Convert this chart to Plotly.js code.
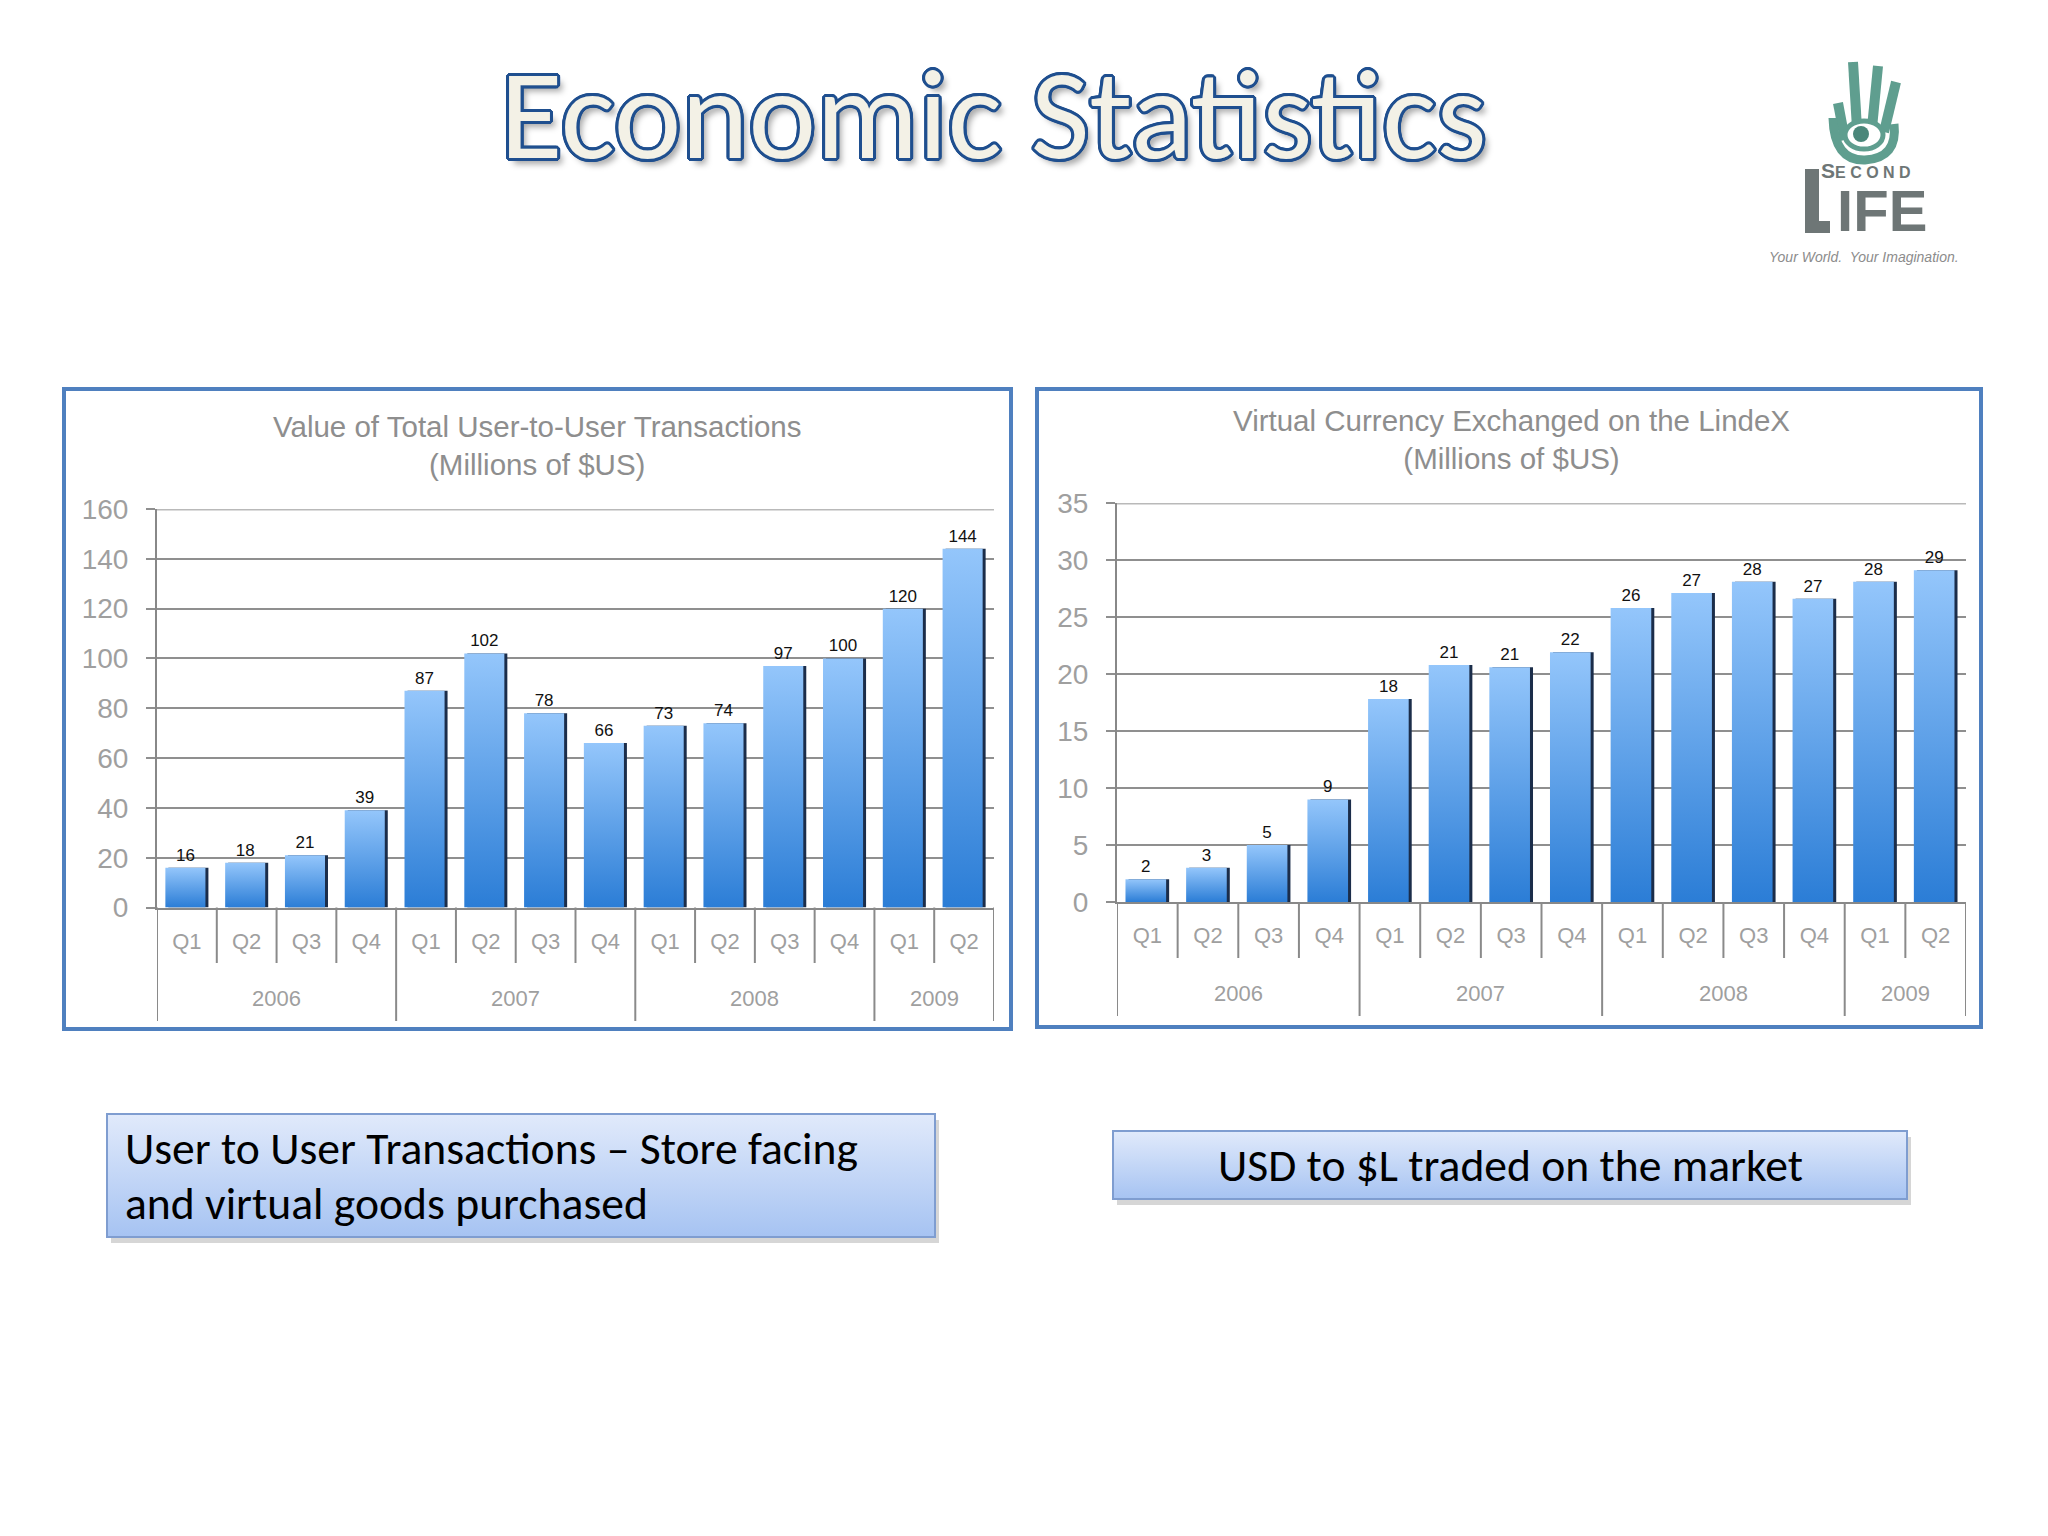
<!DOCTYPE html>
<html>
<head>
<meta charset="utf-8">
<script src="https://cdn.plot.ly/plotly-3.0.1.min.js"></script>
<style>html,body{margin:0;padding:0;background:#ffffff;}</style>
</head>
<body>
<div id="chart" style="width:2048px;height:1536px;"></div>
<script>
// ---------------- data ----------------
const quarters = ['Q1','Q2','Q3','Q4','Q1','Q2','Q3','Q4','Q1','Q2','Q3','Q4','Q1','Q2'];
const years    = ['2006','2006','2006','2006','2007','2007','2007','2007','2008','2008','2008','2008','2009','2009'];
const yearGroups = ['2006','2007','2008','2009'];
const userToUser = [16, 18, 21, 39, 87, 102, 78, 66, 73, 74, 97, 100, 120, 144];
const lindex     = [2, 3, 5, 9, 17.8, 20.8, 20.6, 21.9, 25.8, 27.1, 28.1, 26.6, 28.1, 29.1];
const leftTitle  = 'Value of Total User-to-User Transactions<br>(Millions of $US)';
const rightTitle = 'Virtual Currency Exchanged on the LindeX<br>(Millions of $US)';
const pageTitle  = 'Economic Statistics';
const leftNote   = ['User to User Transactions \u2013 Store facing', 'and virtual goods purchased'];
const rightNote  = 'USD to $L traded on the market';

// ---------------- helpers ----------------
const W = 2048, H = 1536;
const PX = x => x / W;
const PY = y => 1 - y / H;
const cats = years.map((y, i) => y + ' ' + quarters[i]);

const BAR_COLOR = '#5c9ee8';
const BOX_COLOR = '#c8d8f5';
const GRID = '#8f8f8f';
const LABEL = '#9f9f9f';
const AXFONT = 'Liberation Sans, Arial, sans-serif';
const CAL = 'Carlito, Calibri, Lato, sans-serif';

const data = [];
const shapes = [];
const annotations = [];
const layout = {
  width: W, height: H,
  margin: {l: 0, r: 0, t: 0, b: 0},
  paper_bgcolor: '#ffffff',
  plot_bgcolor: 'rgba(0,0,0,0)',
  showlegend: false,
  barmode: 'overlay',
  shapes: shapes,
  annotations: annotations
};

function note(x, y, text, font, xanchor) {
  annotations.push({xref: 'paper', yref: 'paper', x: PX(x), y: PY(y), text: text,
    xanchor: xanchor || 'center', yanchor: 'middle', showarrow: false, font: font});
}

function chart(n, values, cfg) {
  const xs = n === 1 ? '' : String(n);
  const xa = 'x' + xs, ya = 'y' + xs;
  // dark right-edge shadow bars
  data.push({
    type: 'bar', x: cats, y: values, xaxis: xa, yaxis: ya,
    width: 0.67, offset: -0.31,
    marker: {color: '#1b2d4a', line: {width: 0}},
    hoverinfo: 'skip'
  });
  // main bars
  data.push({
    type: 'bar', x: cats, y: values, xaxis: xa, yaxis: ya,
    width: 0.67, offset: -0.36,
    marker: {color: BAR_COLOR, line: {width: 0}},
    texttemplate: '%{y:.0f}', textposition: 'outside', cliponaxis: false,
    constraintext: 'none',
    textfont: {family: 'Liberation Sans Narrow, Arial Narrow, sans-serif', size: 17, color: '#111111'}
  });
  const y0 = PY(cfg.zeroPx), y1 = PY(cfg.topPx);
  layout['xaxis' + xs] = {
    domain: [PX(cfg.left), PX(cfg.right)], anchor: ya,
    type: 'category', categoryorder: 'array', categoryarray: cats,
    tickmode: 'array', tickvals: cats, ticktext: quarters,
    range: [-0.5, cats.length - 0.5],
    ticks: '', showgrid: false, zeroline: false,
    showline: true, linecolor: '#888888', linewidth: 2,
    tickfont: {family: AXFONT, size: 22, color: LABEL},
    ticklabelstandoff: cfg.qStandoff,
    fixedrange: true
  };
  layout['yaxis' + xs] = {
    domain: [y0, y1], anchor: xa,
    range: [0, cfg.max], tick0: 0, dtick: cfg.dtick,
    ticks: 'outside', ticklen: 9, tickwidth: 2, tickcolor: GRID,
    showgrid: true, gridcolor: GRID, gridwidth: 2,
    showline: true, linecolor: '#888888', linewidth: 2,
    zeroline: false,
    tickfont: {family: AXFONT, size: 28, color: LABEL},
    ticklabelstandoff: 12,
    fixedrange: true
  };
  // lighter top gridline
  shapes.push({type: 'line', xref: xa + ' domain', yref: ya, x0: 0, x1: 1, y0: cfg.max, y1: cfg.max,
    line: {color: '#b9b9b9', width: 3}, layer: 'above'});
  // quarter & year dividers
  for (let i = 0; i <= cats.length; i++) {
    const isYear = i === 0 || i === cats.length || years[i] !== years[i - 1];
    shapes.push({type: 'line', xref: xa, yref: 'paper', x0: i - 0.5, x1: i - 0.5,
      y0: y0, y1: PY(isYear ? cfg.yearLinePx : cfg.qLinePx),
      line: {color: '#8a8a8a', width: 2}});
  }
  // year labels
  yearGroups.forEach(g => {
    const idx = years.map((y, i) => y === g ? i : -1).filter(i => i >= 0);
    const c = idx.reduce((a, b) => a + b, 0) / idx.length;
    annotations.push({xref: xa, yref: 'paper', x: c, y: PY(cfg.yearLabelPx), text: g,
      xanchor: 'center', yanchor: 'middle',
      showarrow: false, font: {family: AXFONT, size: 22, color: LABEL}});
  });
  // chart title
  note(cfg.titleX, cfg.titleY, cfg.title, {family: AXFONT, size: 29.5, color: '#8e8e8e'});
  // frame
  shapes.push({type: 'rect', xref: 'paper', yref: 'paper',
    x0: PX(cfg.frame[0]), x1: PX(cfg.frame[2]), y0: PY(cfg.frame[1]), y1: PY(cfg.frame[3]),
    line: {color: '#4f80bf', width: 4}, layer: 'below'});
}

chart(1, userToUser, {left: 157, right: 994, zeroPx: 907.5, topPx: 509, max: 160, dtick: 20,
  qLinePx: 963, yearLinePx: 1021, yearLabelPx: 998, qStandoff: 13,
  titleX: 537, titleY: 445.5, title: leftTitle, frame: [64, 389, 1011, 1029]});
chart(2, lindex, {left: 1117, right: 1966, zeroPx: 902, topPx: 503, max: 35, dtick: 5,
  qLinePx: 958, yearLinePx: 1016, yearLabelPx: 993, qStandoff: 13,
  titleX: 1511, titleY: 439.5, title: rightTitle, frame: [1037, 389, 1981, 1027]});

// ---------------- page title ----------------
const outline = '#1f4f8f';
const sh = [];
[[3,0],[-3,0],[0,3],[0,-3],[2,2],[-2,-2],[2,-2],[-2,2],[3,1],[-3,1],[3,-1],[-3,-1],[1,3],[1,-3],[-1,3],[-1,-3]]
  .forEach(([a, b]) => sh.push(a + 'px ' + b + 'px 0 ' + outline));
sh.push('5px 6px 6px rgba(0,0,0,0.35)');
note(993, 114, pageTitle, {family: CAL, size: 128, color: '#f3f1e6', shadow: sh.join(', ')});

// ---------------- note boxes ----------------
function box(x0, y0, x1, y1) {
  shapes.push({type: 'rect', xref: 'paper', yref: 'paper', x0: PX(x0 + 4), x1: PX(x1 + 4), y0: PY(y0 + 6), y1: PY(y1 + 6),
    fillcolor: 'rgba(0,0,0,0.16)', line: {width: 0}, layer: 'above'});
  shapes.push({type: 'rect', xref: 'paper', yref: 'paper', x0: PX(x0), x1: PX(x1), y0: PY(y0), y1: PY(y1),
    fillcolor: BOX_COLOR, line: {color: '#7f9dd0', width: 2}, layer: 'above'});
}
box(107, 1114, 935, 1237);
box(1113, 1131, 1907, 1199);
const NOTEFONT = {family: CAL, size: 45.6, color: '#000000'};
note(123, 1148, leftNote[0], NOTEFONT, 'left');
note(123, 1203, leftNote[1], NOTEFONT, 'left');
note(1510, 1165, rightNote, NOTEFONT);

// ---------------- logo ----------------
const TEAL = '#5f9e8f';
const P = (x, y) => PX(x) + ',' + PY(y);
[[1838,103,1845,140],[1853,62,1857,128],[1878,66,1872,128],[1896,82,1884,132]].forEach(f => {
  shapes.push({type: 'line', xref: 'paper', yref: 'paper', x0: PX(f[0]), y0: PY(f[1]), x1: PX(f[2]), y1: PY(f[3]),
    line: {color: TEAL, width: 10}, layer: 'above'});
});
shapes.push({type: 'path', xref: 'paper', yref: 'paper', layer: 'above',
  path: 'M' + P(1833,118) + ' Q' + P(1834,161) + ' ' + P(1865,160) + ' Q' + P(1898,158) + ' ' + P(1894,124),
  line: {color: TEAL, width: 9}});
shapes.push({type: 'circle', xref: 'paper', yref: 'paper', x0: PX(1845), x1: PX(1883), y0: PY(121), y1: PY(149),
  fillcolor: '#ffffff', line: {color: TEAL, width: 5}, layer: 'above'});
shapes.push({type: 'circle', xref: 'paper', yref: 'paper', x0: PX(1853), x1: PX(1869), y0: PY(126), y1: PY(142),
  fillcolor: '#4a877a', line: {width: 0}, layer: 'above'});
// L of LIFE
const GRAYL = '#6e7676';
shapes.push({type: 'path', xref: 'paper', yref: 'paper', layer: 'above', fillcolor: GRAYL, line: {width: 0},
  path: 'M' + P(1805,169) + ' L' + P(1819,169) + ' L' + P(1819,221) + ' L' + P(1830,221) + ' L' + P(1830,233) + ' L' + P(1805,233) + ' Z'});
annotations.push({xref: 'paper', yref: 'paper', x: PX(1819), y: PY(245), xanchor: 'left', yanchor: 'bottom',
  align: 'left', showarrow: false,
  text: "<span style='font-size:21px'>S</span><span style='font-size:16px'>E C O N D</span><br>" +
        "<span style='font-size:58px'>\u00a0IFE</span>",
  font: {family: 'Liberation Sans, Arial, sans-serif', size: 41, weight: 700, color: GRAYL}});
note(1427 * 1.306, 257, 'Your World.  Your Imagination.',
  {family: 'Liberation Sans Narrow, Liberation Sans, Arial, sans-serif', size: 14, style: 'italic', color: '#8c8c8c'});

// ---------------- draw ----------------
const gd = document.getElementById('chart');
Plotly.newPlot(gd, data, layout, {staticPlot: true, displayModeBar: false}).then(() => {
  const NS = 'http://www.w3.org/2000/svg';
  const svg = gd.querySelector('svg.main-svg');
  let defs = svg.querySelector('defs');
  if (!defs) { defs = document.createElementNS(NS, 'defs'); svg.insertBefore(defs, svg.firstChild); }
  function addGrad(id, stops) {
    const g = document.createElementNS(NS, 'linearGradient');
    g.setAttribute('id', id);
    g.setAttribute('x1', '0'); g.setAttribute('y1', '0'); g.setAttribute('x2', '0'); g.setAttribute('y2', '1');
    stops.forEach(([o, c]) => {
      const s = document.createElementNS(NS, 'stop');
      s.setAttribute('offset', o); s.setAttribute('stop-color', c);
      g.appendChild(s);
    });
    defs.appendChild(g);
  }
  addGrad('barGrad', [[0, '#94c6fb'], [1, '#2b7dd6']]);
  addGrad('boxGrad', [[0, '#e1eafb'], [1, '#a6c3f2']]);
  gd.querySelectorAll('path').forEach(p => {
    const f = p.style.fill;
    if (f === 'rgb(92, 158, 232)') p.style.fill = 'url(#barGrad)';
    else if (f === 'rgb(200, 216, 245)') p.style.fill = 'url(#boxGrad)';
  });
});
</script>
</body>
</html>
